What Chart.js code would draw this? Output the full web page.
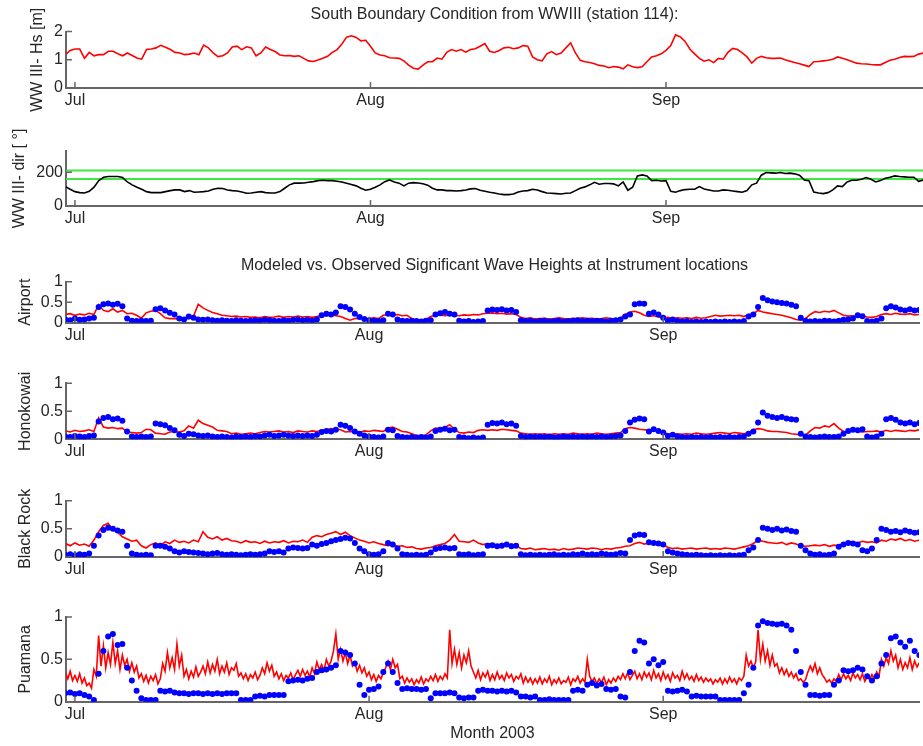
<!DOCTYPE html>
<html>
<head>
<meta charset="utf-8">
<script src="https://cdn.jsdelivr.net/npm/chart.js@4.4.1/dist/chart.umd.min.js"></script>
<style>
  body { margin: 0; background: #fff; width: 923px; height: 746px; position: relative; overflow: hidden;
         font-family: "Liberation Sans", Arial, Helvetica, sans-serif; }
  .ttl { position: absolute; left: 66px; width: 857px; text-align: center; font-size: 16px;
         line-height: 20px; color: #262626; z-index: 5; white-space: nowrap; }
</style>
</head>
<body>
<div class="ttl" style="top:4px">South Boundary Condition from WWIII (station 114):</div>
<div class="ttl" style="top:255px">Modeled vs. Observed Significant Wave Heights at Instrument locations</div>
<script>
// time axis: days since 1 Jul 2003, samples start on 30 Jun
const dayStart = -1;
const dayStep = 0.5;      // most series: every half day
const puamanaStep = 0.25; // Puamana model: every quarter day
const monthTicks = [0, 31, 62];
const monthLabels = ['Jul', 'Aug', 'Sep'];

const hsTicks = [0, 1, 2];
const dirTicks = [0, 200];
const heightTicks = [0, 0.5, 1];

// WWIII significant wave height [m]
const hsModel = [
  1.18,1.33,1.38,1.38,1.05,1.26,1.14,1.18,1.18,1.30,
  1.30,1.21,1.14,1.24,1.15,1.06,1.02,1.36,1.38,1.42,
  1.51,1.44,1.36,1.26,1.24,1.18,1.20,1.24,1.18,1.52,
  1.42,1.24,1.11,1.14,1.24,1.45,1.48,1.36,1.46,1.42,
  1.14,1.24,1.45,1.36,1.29,1.17,1.14,1.15,1.12,1.14,
  1.05,0.96,0.94,0.99,1.05,1.12,1.26,1.36,1.56,1.80,
  1.85,1.79,1.67,1.69,1.48,1.24,1.17,1.14,1.07,1.06,
  1.05,0.96,0.81,0.70,0.67,0.81,0.93,0.93,1.06,1.02,
  1.26,1.36,1.30,1.36,1.27,1.36,1.39,1.48,1.57,1.30,
  1.26,1.33,1.42,1.44,1.39,1.42,1.50,1.48,1.10,1.00,
  0.96,1.21,1.29,1.18,1.24,1.42,1.60,1.24,0.98,0.93,
  0.90,0.86,0.80,0.78,0.72,0.76,0.74,0.68,0.82,0.75,
  0.72,0.75,0.93,1.10,1.14,1.21,1.33,1.50,1.88,1.81,
  1.65,1.38,1.21,1.05,0.95,1.00,0.90,1.05,1.02,1.26,
  1.40,1.36,1.24,1.10,0.88,1.05,1.12,1.07,1.05,1.05,
  1.06,1.00,0.95,0.90,0.86,0.81,0.76,0.93,0.94,0.96,
  0.98,1.02,1.10,1.05,1.00,0.94,0.88,0.86,0.85,0.83,
  0.82,0.82,0.90,0.98,1.02,1.08,1.12,1.11,1.12,1.20,1.24
];

// WWIII mean direction [deg]
const dirModel = [
  115,99,85,79,77,87,111,150,170,174,
  174,174,168,142,125,111,99,85,79,79,
  79,85,91,95,95,85,91,81,83,85,
  89,99,105,103,95,91,89,83,75,77,
  81,85,79,77,77,85,105,125,135,135,
  136,140,144,150,152,150,150,146,142,135,
  127,119,105,93,99,111,125,144,154,142,
  135,119,135,138,136,131,123,105,95,95,
  91,91,89,91,95,101,103,93,87,81,
  77,71,67,67,71,83,89,91,99,95,
  85,77,75,73,71,75,77,91,105,113,
  125,140,129,133,133,131,119,142,93,111,
  178,184,178,150,152,148,150,87,81,91,
  97,99,99,115,101,95,89,89,95,93,
  89,85,81,91,125,135,182,198,196,194,
  198,192,194,190,182,154,150,83,77,73,
  79,95,119,115,142,152,152,158,168,158,
  142,150,164,170,178,174,172,170,170,146,154
];
const dirBand = [160, 210];

const airportModel = [
  0.20,0.22,0.18,0.21,0.19,0.23,0.20,0.44,0.30,0.27,
  0.34,0.26,0.30,0.22,0.23,0.18,0.11,0.24,0.28,0.30,
  0.22,0.12,0.10,0.10,0.09,0.11,0.10,0.16,0.45,0.36,
  0.30,0.25,0.22,0.18,0.17,0.15,0.16,0.14,0.15,0.13,
  0.14,0.12,0.15,0.13,0.14,0.16,0.13,0.15,0.14,0.16,
  0.14,0.15,0.13,0.15,0.16,0.17,0.19,0.17,0.15,0.10,
  0.06,0.10,0.11,0.09,0.10,0.12,0.10,0.18,0.20,0.18,
  0.20,0.17,0.18,0.10,0.06,0.07,0.08,0.15,0.18,0.19,
  0.17,0.19,0.18,0.17,0.19,0.18,0.20,0.19,0.22,0.23,
  0.24,0.22,0.23,0.21,0.22,0.20,0.13,0.10,0.12,0.09,
  0.10,0.11,0.09,0.10,0.12,0.10,0.09,0.11,0.10,0.12,
  0.10,0.11,0.09,0.10,0.12,0.10,0.08,0.11,0.20,0.26,
  0.28,0.24,0.18,0.15,0.17,0.14,0.12,0.13,0.10,0.12,
  0.11,0.12,0.10,0.13,0.11,0.12,0.15,0.18,0.16,0.17,
  0.18,0.17,0.18,0.15,0.20,0.22,0.30,0.26,0.24,0.22,
  0.20,0.18,0.15,0.12,0.08,0.06,0.10,0.20,0.27,0.25,
  0.28,0.26,0.30,0.24,0.18,0.16,0.17,0.15,0.16,0.14,
  0.13,0.15,0.20,0.22,0.20,0.23,0.21,0.20,0.22,0.19,0.20
];
const airportObs = [
  0.08,0.06,0.10,0.07,0.08,0.10,0.12,0.38,0.45,0.47,
  0.44,0.46,0.40,0.10,0.05,0.04,0.05,0.04,0.05,0.33,
  0.35,0.30,0.24,0.20,0.10,0.08,0.15,0.12,0.08,0.07,
  0.08,0.06,0.05,0.06,0.05,0.04,0.06,0.05,0.04,0.05,
  0.06,0.05,0.07,0.06,0.05,0.04,0.06,0.05,0.07,0.08,
  0.06,0.07,0.05,0.08,0.18,0.22,0.20,0.25,0.40,0.38,
  0.32,0.22,0.14,0.09,0.06,0.05,0.04,0.06,0.22,0.20,
  0.08,0.05,0.04,0.05,0.04,0.03,0.05,0.06,0.20,0.23,
  0.26,0.22,0.20,0.05,0.03,0.04,0.02,0.03,0.04,0.30,
  0.32,0.31,0.33,0.30,0.31,0.26,0.06,0.04,0.05,0.03,
  0.04,0.05,0.03,0.04,0.05,0.03,0.04,0.05,0.06,0.04,
  0.05,0.04,0.05,0.04,0.03,0.05,0.06,0.08,0.15,0.20,
  0.45,0.47,0.46,0.22,0.25,0.20,0.12,0.05,0.08,0.04,
  0.03,0.04,0.02,0.03,0.02,0.03,0.02,0.03,0.02,0.03,
  0.02,0.03,0.02,0.04,0.15,0.20,0.38,0.60,0.55,0.52,
  0.50,0.48,0.47,0.44,0.40,0.12,0.05,0.03,0.04,0.03,
  0.05,0.04,0.03,0.05,0.07,0.08,0.10,0.18,0.16,0.04,
  0.03,0.05,0.10,0.35,0.40,0.37,0.32,0.30,0.33,0.30,0.31
];

const honokowaiModel = [
  0.15,0.13,0.16,0.14,0.15,0.17,0.14,0.38,0.22,0.20,
  0.21,0.19,0.20,0.13,0.12,0.11,0.12,0.18,0.17,0.11,
  0.10,0.09,0.13,0.14,0.13,0.15,0.24,0.20,0.34,0.28,
  0.25,0.22,0.16,0.15,0.14,0.10,0.11,0.09,0.10,0.11,
  0.10,0.12,0.14,0.13,0.14,0.15,0.13,0.14,0.12,0.15,
  0.14,0.13,0.15,0.14,0.16,0.17,0.19,0.18,0.17,0.13,
  0.14,0.13,0.12,0.15,0.14,0.16,0.15,0.14,0.20,0.22,
  0.18,0.14,0.13,0.10,0.07,0.06,0.08,0.15,0.20,0.19,
  0.21,0.26,0.18,0.12,0.11,0.13,0.12,0.16,0.17,0.16,
  0.17,0.16,0.18,0.17,0.16,0.15,0.11,0.10,0.09,0.10,
  0.09,0.10,0.08,0.10,0.09,0.10,0.09,0.11,0.10,0.09,
  0.10,0.09,0.11,0.10,0.09,0.10,0.11,0.12,0.19,0.21,
  0.20,0.18,0.17,0.16,0.18,0.16,0.12,0.10,0.09,0.10,
  0.09,0.10,0.09,0.11,0.10,0.09,0.10,0.11,0.12,0.11,
  0.10,0.12,0.11,0.10,0.12,0.17,0.19,0.18,0.15,0.14,
  0.14,0.13,0.12,0.10,0.09,0.08,0.07,0.15,0.21,0.20,
  0.24,0.22,0.28,0.20,0.14,0.13,0.15,0.14,0.13,0.14,
  0.14,0.15,0.13,0.16,0.14,0.16,0.15,0.14,0.16,0.15,0.17
];
const honokowaiObs = [
  0.05,0.04,0.06,0.05,0.04,0.06,0.07,0.32,0.38,0.40,
  0.36,0.37,0.33,0.14,0.05,0.04,0.05,0.04,0.05,0.28,
  0.27,0.25,0.20,0.16,0.08,0.06,0.10,0.09,0.07,0.06,
  0.07,0.05,0.04,0.05,0.04,0.03,0.05,0.04,0.05,0.04,
  0.06,0.05,0.07,0.08,0.06,0.07,0.08,0.07,0.06,0.07,
  0.06,0.07,0.06,0.08,0.13,0.15,0.14,0.17,0.26,0.24,
  0.20,0.14,0.10,0.07,0.05,0.04,0.03,0.05,0.17,0.16,
  0.06,0.04,0.03,0.04,0.03,0.04,0.03,0.05,0.15,0.17,
  0.19,0.16,0.17,0.04,0.03,0.02,0.03,0.02,0.03,0.26,
  0.29,0.28,0.30,0.27,0.28,0.24,0.06,0.04,0.05,0.04,
  0.05,0.04,0.05,0.03,0.04,0.05,0.04,0.05,0.04,0.05,
  0.04,0.05,0.04,0.05,0.04,0.05,0.06,0.07,0.15,0.30,
  0.35,0.37,0.36,0.14,0.18,0.15,0.12,0.06,0.08,0.05,
  0.04,0.03,0.04,0.03,0.04,0.03,0.04,0.03,0.04,0.03,
  0.04,0.03,0.04,0.05,0.10,0.14,0.30,0.48,0.42,0.40,
  0.38,0.40,0.37,0.36,0.35,0.10,0.05,0.04,0.03,0.04,
  0.05,0.04,0.04,0.05,0.10,0.15,0.17,0.16,0.18,0.05,
  0.03,0.05,0.10,0.36,0.38,0.35,0.30,0.28,0.30,0.27,0.29
];

const blackRockModel = [
  0.24,0.20,0.25,0.21,0.23,0.19,0.30,0.45,0.56,0.60,
  0.48,0.44,0.36,0.32,0.28,0.30,0.20,0.16,0.22,0.25,
  0.20,0.27,0.24,0.30,0.26,0.28,0.25,0.30,0.27,0.45,
  0.35,0.32,0.36,0.30,0.33,0.29,0.28,0.25,0.29,0.26,
  0.27,0.24,0.28,0.25,0.27,0.26,0.29,0.25,0.28,0.27,
  0.30,0.26,0.35,0.38,0.36,0.40,0.42,0.45,0.40,0.44,
  0.38,0.34,0.30,0.28,0.25,0.27,0.24,0.22,0.20,0.22,
  0.19,0.20,0.17,0.18,0.15,0.14,0.16,0.17,0.20,0.22,
  0.24,0.30,0.40,0.28,0.27,0.26,0.30,0.25,0.22,0.24,
  0.22,0.20,0.24,0.21,0.23,0.20,0.15,0.14,0.16,0.13,
  0.14,0.15,0.13,0.14,0.12,0.15,0.13,0.14,0.16,0.15,
  0.14,0.16,0.15,0.13,0.15,0.14,0.16,0.17,0.19,0.20,
  0.24,0.26,0.23,0.25,0.27,0.24,0.22,0.17,0.15,0.16,
  0.14,0.15,0.16,0.14,0.15,0.16,0.14,0.15,0.14,0.16,
  0.15,0.14,0.16,0.18,0.20,0.24,0.30,0.28,0.26,0.25,
  0.24,0.26,0.22,0.25,0.23,0.20,0.19,0.20,0.21,0.20,
  0.22,0.19,0.21,0.20,0.25,0.26,0.27,0.25,0.28,0.26,
  0.27,0.25,0.30,0.28,0.32,0.30,0.33,0.29,0.31,0.28,0.30
];
const blackRockObs = [
  0.04,0.05,0.03,0.05,0.04,0.06,0.20,0.38,0.48,0.52,
  0.50,0.47,0.45,0.20,0.06,0.04,0.03,0.04,0.03,0.20,
  0.20,0.18,0.15,0.10,0.08,0.10,0.09,0.08,0.07,0.06,
  0.05,0.06,0.07,0.05,0.04,0.05,0.04,0.03,0.04,0.05,
  0.04,0.05,0.06,0.10,0.09,0.10,0.08,0.15,0.17,0.16,
  0.15,0.16,0.22,0.20,0.23,0.25,0.28,0.30,0.32,0.34,
  0.33,0.25,0.15,0.10,0.05,0.04,0.05,0.10,0.25,0.22,
  0.15,0.05,0.04,0.03,0.04,0.03,0.04,0.08,0.14,0.16,
  0.17,0.15,0.16,0.05,0.04,0.05,0.03,0.04,0.05,0.20,
  0.21,0.19,0.20,0.22,0.19,0.20,0.05,0.03,0.04,0.03,
  0.04,0.03,0.04,0.05,0.03,0.04,0.03,0.05,0.04,0.06,
  0.04,0.05,0.04,0.06,0.05,0.04,0.05,0.07,0.06,0.30,
  0.38,0.40,0.39,0.26,0.25,0.24,0.22,0.10,0.08,0.06,
  0.05,0.04,0.03,0.04,0.03,0.02,0.03,0.02,0.03,0.02,
  0.03,0.02,0.03,0.04,0.12,0.17,0.30,0.52,0.50,0.48,
  0.50,0.47,0.49,0.46,0.45,0.20,0.12,0.06,0.04,0.05,
  0.03,0.04,0.06,0.18,0.22,0.25,0.24,0.22,0.12,0.10,
  0.15,0.30,0.50,0.48,0.45,0.46,0.44,0.47,0.45,0.43,0.44
];

// Puamana model, quarter-day samples
const puamanaModel = [
  0.34,0.27,0.36,0.25,0.31,0.24,0.33,0.22,0.28,0.19,0.22,0.16,0.38,0.30,0.78,0.42,0.66,0.40,0.58,0.44,
  0.70,0.45,0.60,0.38,0.55,0.43,0.50,0.36,0.46,0.35,0.42,0.28,0.33,0.24,0.31,0.22,0.30,0.25,0.32,0.21,
  0.27,0.45,0.36,0.58,0.40,0.52,0.38,0.68,0.42,0.55,0.30,0.38,0.27,0.36,0.29,0.41,0.30,0.35,0.42,0.33,
  0.47,0.34,0.44,0.36,0.50,0.33,0.42,0.35,0.46,0.32,0.40,0.37,0.45,0.30,0.34,0.27,0.33,0.25,0.32,0.28,
  0.35,0.26,0.31,0.40,0.33,0.46,0.36,0.43,0.30,0.35,0.27,0.33,0.25,0.31,0.28,0.34,0.26,0.32,0.37,0.30,
  0.38,0.31,0.36,0.29,0.40,0.33,0.47,0.38,0.44,0.37,0.50,0.42,0.48,0.60,0.80,0.50,0.62,0.48,0.58,0.45,
  0.55,0.42,0.46,0.36,0.43,0.34,0.40,0.30,0.35,0.26,0.32,0.24,0.31,0.27,0.34,0.40,0.48,0.38,0.50,0.40,
  0.44,0.27,0.30,0.22,0.28,0.23,0.27,0.20,0.26,0.22,0.29,0.21,0.27,0.24,0.30,0.25,0.32,0.24,0.30,0.26,
  0.33,0.28,0.85,0.45,0.62,0.44,0.58,0.40,0.55,0.46,0.60,0.42,0.35,0.28,0.37,0.26,0.34,0.29,0.36,0.25,
  0.32,0.26,0.35,0.27,0.31,0.25,0.34,0.28,0.32,0.24,0.30,0.27,0.33,0.22,0.29,0.23,0.28,0.21,0.27,0.22,
  0.29,0.21,0.27,0.23,0.30,0.20,0.26,0.22,0.28,0.21,0.25,0.23,0.29,0.20,0.27,0.24,0.30,0.22,0.27,0.23,
  0.50,0.30,0.24,0.28,0.21,0.27,0.23,0.29,0.20,0.26,0.22,0.28,0.24,0.30,0.26,0.33,0.27,0.34,0.26,0.31,
  0.36,0.27,0.33,0.26,0.35,0.29,0.34,0.26,0.37,0.28,0.33,0.25,0.35,0.27,0.32,0.24,0.34,0.28,0.31,0.25,
  0.36,0.27,0.33,0.26,0.30,0.24,0.32,0.25,0.29,0.23,0.28,0.24,0.27,0.21,0.26,0.23,0.28,0.21,0.27,0.22,
  0.29,0.23,0.27,0.21,0.28,0.25,0.30,0.55,0.42,0.48,0.40,0.47,0.85,0.50,0.68,0.48,0.60,0.43,0.55,0.42,
  0.45,0.34,0.40,0.32,0.38,0.30,0.35,0.28,0.33,0.25,0.27,0.23,0.26,0.35,0.42,0.36,0.45,0.33,0.40,0.32,
  0.28,0.23,0.26,0.22,0.27,0.24,0.32,0.26,0.33,0.27,0.31,0.25,0.34,0.28,0.32,0.26,0.33,0.24,0.30,0.26,
  0.32,0.27,0.35,0.30,0.50,0.42,0.52,0.45,0.60,0.48,0.55,0.40,0.50,0.38,0.46,0.40,0.52,0.38,0.48,0.41,
  0.46
];
const puamanaObs = [
  0.10,0.11,0.09,0.10,0.08,0.06,0.02,0.33,0.60,0.77,
  0.80,0.67,0.68,0.40,0.25,0.13,0.04,0.02,0.02,0.02,
  0.13,0.12,0.13,0.11,0.10,0.10,0.09,0.10,0.10,0.09,
  0.10,0.09,0.10,0.09,0.10,0.10,0.10,0.02,0.02,0.02,
  0.06,0.07,0.06,0.08,0.08,0.08,0.08,0.24,0.25,0.26,
  0.25,0.27,0.28,0.35,0.37,0.38,0.40,0.43,0.60,0.58,
  0.55,0.45,0.20,0.08,0.14,0.15,0.18,0.35,0.45,0.35,
  0.22,0.15,0.16,0.15,0.15,0.14,0.15,0.04,0.10,0.10,
  0.10,0.11,0.10,0.05,0.04,0.05,0.05,0.13,0.14,0.13,
  0.13,0.12,0.13,0.12,0.13,0.11,0.06,0.06,0.05,0.06,
  0.02,0.02,0.03,0.02,0.02,0.02,0.02,0.13,0.14,0.13,
  0.20,0.22,0.19,0.21,0.15,0.14,0.15,0.06,0.05,0.35,
  0.60,0.72,0.70,0.45,0.50,0.43,0.47,0.13,0.12,0.13,
  0.14,0.12,0.06,0.07,0.06,0.06,0.06,0.06,0.02,0.02,
  0.02,0.02,0.02,0.10,0.20,0.40,0.90,0.95,0.93,0.92,
  0.91,0.92,0.90,0.85,0.60,0.35,0.20,0.08,0.08,0.07,
  0.08,0.08,0.20,0.25,0.37,0.36,0.37,0.40,0.38,0.30,
  0.25,0.30,0.45,0.55,0.75,0.77,0.70,0.65,0.72,0.60,0.55
];

// ---- drawing ----
const X_MIN = -0.94, X_MAX = 88.96;
const AXIS_COLOR = '#666';
const RED = '#ff0000', BLUE = '#0000ff', BLACK = '#000000', GREEN = '#3fe83f';

Chart.defaults.font.family = '"Liberation Sans", Arial, Helvetica, sans-serif';
Chart.defaults.font.size = 16;
Chart.defaults.color = '#262626';

const toPoints = (vals, step) => vals.map((v, i) => ({ x: dayStart + i * step, y: v }));
const flat = v => [{ x: X_MIN, y: v }, { x: X_MAX, y: v }];

const modelLine = (vals, color, step = dayStep) => ({ data: toPoints(vals, step), borderColor: color,
  borderWidth: 1.6, pointRadius: 0, tension: 0, fill: false });
const obsDots = vals => ({ data: toPoints(vals, dayStep), showLine: false, pointRadius: 3,
  pointBackgroundColor: BLUE, pointBorderWidth: 0 });

// MATLAB style ticks pointing into the axes
const inwardTicks = {
  id: 'inwardTicks',
  afterDraw(chart) {
    const { ctx, chartArea: a, scales } = chart;
    ctx.save();
    ctx.strokeStyle = AXIS_COLOR;
    ctx.lineWidth = 1.5;
    ctx.beginPath();
    scales.y.ticks.forEach(t => {
      const y = scales.y.getPixelForValue(t.value);
      ctx.moveTo(a.left, y); ctx.lineTo(a.left + 6, y);
    });
    scales.x.ticks.forEach(t => {
      const x = scales.x.getPixelForValue(t.value);
      ctx.moveTo(x, a.bottom); ctx.lineTo(x, a.bottom - 6);
    });
    ctx.stroke();
    ctx.restore();
  }
};

function makePanel(p) {
  const top = Math.max(0, Math.floor(p.plotTop) - 40);
  const padTop = p.plotTop - top;
  const plotH = p.plotBottom - p.plotTop;
  const H = Math.ceil(padTop + plotH + p.axisH);
  const xH = H - padTop - plotH;

  const cv = document.createElement('canvas');
  cv.width = 923; cv.height = H;
  cv.style.cssText = 'position:absolute;left:0;top:' + top + 'px';
  document.body.appendChild(cv);

  new Chart(cv, {
    type: 'line',
    data: { datasets: p.datasets },
    plugins: [inwardTicks],
    options: {
      responsive: false,
      animation: false,
      layout: { padding: { top: padTop, left: 0, right: 0, bottom: 0 } },
      plugins: { legend: { display: false }, tooltip: { enabled: false } },
      scales: {
        x: {
          type: 'linear', min: X_MIN, max: X_MAX,
          border: { color: AXIS_COLOR, width: 2 },
          grid: { display: false, drawTicks: false },
          afterBuildTicks: s => { s.ticks = monthTicks.map(v => ({ value: v })); },
          ticks: { padding: 3, maxRotation: 0, autoSkip: false,
                   callback: v => monthLabels[monthTicks.indexOf(v)] },
          title: { display: !!p.xTitle, text: p.xTitle || '', padding: { top: 0, bottom: 3.4 } },
          afterFit: s => { s.height = xH; }
        },
        y: {
          type: 'linear', min: 0, max: p.yMax,
          border: { color: AXIS_COLOR, width: 2 },
          grid: { display: false, drawTicks: false },
          afterBuildTicks: s => { s.ticks = p.yTicks.map(v => ({ value: v })); },
          ticks: { padding: 3, autoSkip: false, callback: v => String(v) },
          title: { display: true, text: p.yTitle, padding: { top: p.titlePad, bottom: 0 } },
          afterFit: s => { s.width = 66; }
        }
      }
    }
  });
}

const panels = [
  { plotTop: 31.5, plotBottom: 88, axisH: 28, yMax: 2, yTicks: hsTicks,
    yTitle: 'WW III- Hs [m]', titlePad: 27.5,
    datasets: [modelLine(hsModel, RED)] },
  { plotTop: 151, plotBottom: 206, axisH: 28, yMax: 325, yTicks: dirTicks,
    yTitle: 'WW III- dir [ °]', titlePad: 9.5,
    datasets: [modelLine(dirModel, BLACK),
               { data: flat(dirBand[0]), borderColor: GREEN, borderWidth: 2, pointRadius: 0 },
               { data: flat(dirBand[1]), borderColor: GREEN, borderWidth: 2, pointRadius: 0 }] },
  { plotTop: 281.7, plotBottom: 322.7, axisH: 28, yMax: 1, yTicks: heightTicks,
    yTitle: 'Airport', titlePad: 15.5,
    datasets: [obsDots(airportObs), modelLine(airportModel, RED)] },
  { plotTop: 383.3, plotBottom: 439.3, axisH: 28, yMax: 1, yTicks: heightTicks,
    yTitle: 'Honokowai', titlePad: 15.5,
    datasets: [obsDots(honokowaiObs), modelLine(honokowaiModel, RED)] },
  { plotTop: 500.7, plotBottom: 557, axisH: 28, yMax: 1, yTicks: heightTicks,
    yTitle: 'Black Rock', titlePad: 15.5,
    datasets: [obsDots(blackRockObs), modelLine(blackRockModel, RED)] },
  { plotTop: 617, plotBottom: 701.7, axisH: 44.3, yMax: 1, yTicks: heightTicks,
    yTitle: 'Puamana', titlePad: 15.5, xTitle: 'Month 2003',
    datasets: [obsDots(puamanaObs), modelLine(puamanaModel, RED, puamanaStep)] }
];

panels.forEach(makePanel);
</script>
</body>
</html>
